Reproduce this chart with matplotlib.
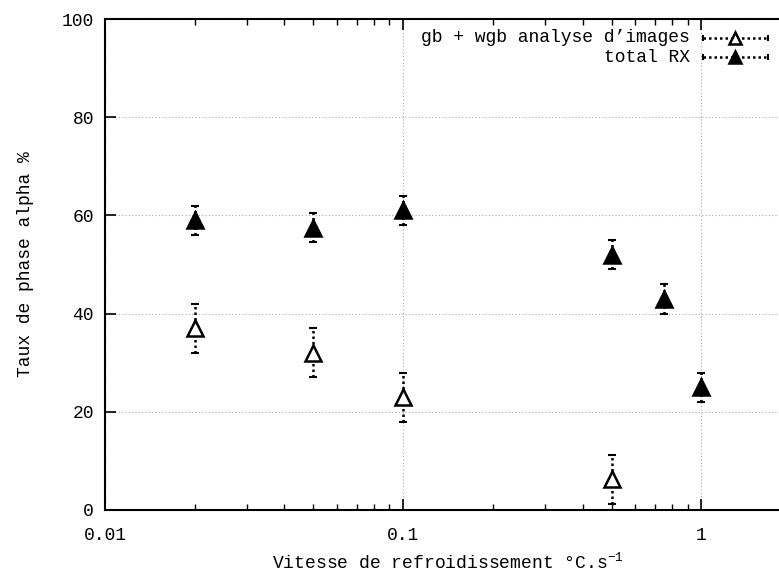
import matplotlib
matplotlib.use("Agg")
import matplotlib.pyplot as plt
from matplotlib.lines import Line2D

# Data
x_gb = [0.02, 0.05, 0.1, 0.5]
y_gb = [37, 32, 23, 6.3]
err_gb = [5, 5, 5, 5]

x_rx = [0.02, 0.05, 0.1, 0.5, 0.75, 1.0]
y_rx = [59, 57.5, 61, 52, 43, 25]
err_rx = [3, 3, 3, 3, 3, 3]

labels = ["gb + wgb analyse d\u2019images", "total RX"]

plt.rcParams['font.family'] = ['Liberation Mono', 'DejaVu Sans Mono']
plt.rcParams['mathtext.fontset'] = 'custom'
plt.rcParams['mathtext.rm'] = 'Liberation Mono'
plt.rcParams['mathtext.it'] = 'Liberation Mono'

fig = plt.figure(figsize=(7.79, 5.75), dpi=100)
ax = fig.add_axes([105 / 779, 65 / 575, 686 / 779, 491 / 575])


def draw_series(x, y, err, filled):
    eb = ax.errorbar(x, y, yerr=err, fmt='none', ecolor='black',
                     elinewidth=1.8, capsize=3, capthick=1.5)
    eb[2][0].set_linestyle((0, (1, 1.2)))
    ax.plot(x, y, ls='none', marker='^', ms=11, mew=1.8,
            mec='black', mfc='black' if filled else 'white', zorder=5)


draw_series(x_gb, y_gb, err_gb, filled=False)
draw_series(x_rx, y_rx, err_rx, filled=True)

ax.set_xscale('log')
ax.set_xlim(0.01, 2)
ax.set_ylim(0, 100)
ax.set_xticks([0.01, 0.1, 1])
ax.set_xticklabels(['0.01', '0.1', '1'])
ax.set_yticks([0, 20, 40, 60, 80, 100])

ax.tick_params(which='both', direction='in', top=True, right=True,
               labelsize=13, colors='black')
ax.tick_params(which='major', length=8, width=1.2, pad=12)
ax.tick_params(which='minor', length=4, width=1.0)
ax.tick_params(axis='y', pad=8)
for s in ax.spines.values():
    s.set_linewidth(1.5)

ax.grid(True, which='major', color='#aaaaaa', ls=(0, (1, 2)), lw=0.8)

ax.set_xlabel('Vitesse de refroidissement \u00b0C.s$^{\\mathrm{-1}}$',
              fontsize=13, labelpad=6)
ax.set_ylabel('Taux de phase alpha %', fontsize=13, labelpad=20)

# gnuplot-style key at top right
key_y = [1 - 38 / 575, 1 - 57 / 575]
for lab, ky, filled in zip(labels, key_y, [False, True]):
    fig.text(690 / 779, ky, lab, ha='right', va='center', fontsize=13)
    fig.add_artist(Line2D([703 / 779, 768 / 779], [ky, ky],
                          transform=fig.transFigure, color='black',
                          ls=(0, (1, 1.2)), lw=1.8,
                          marker='|', ms=5, mew=1.5, markevery=[0, 1]))
    fig.add_artist(Line2D([735 / 779], [ky], transform=fig.transFigure,
                          ls='none', marker='^', ms=9, mew=1.8, mec='black',
                          mfc='black' if filled else 'white'))

fig.savefig('out.png', dpi=100)
